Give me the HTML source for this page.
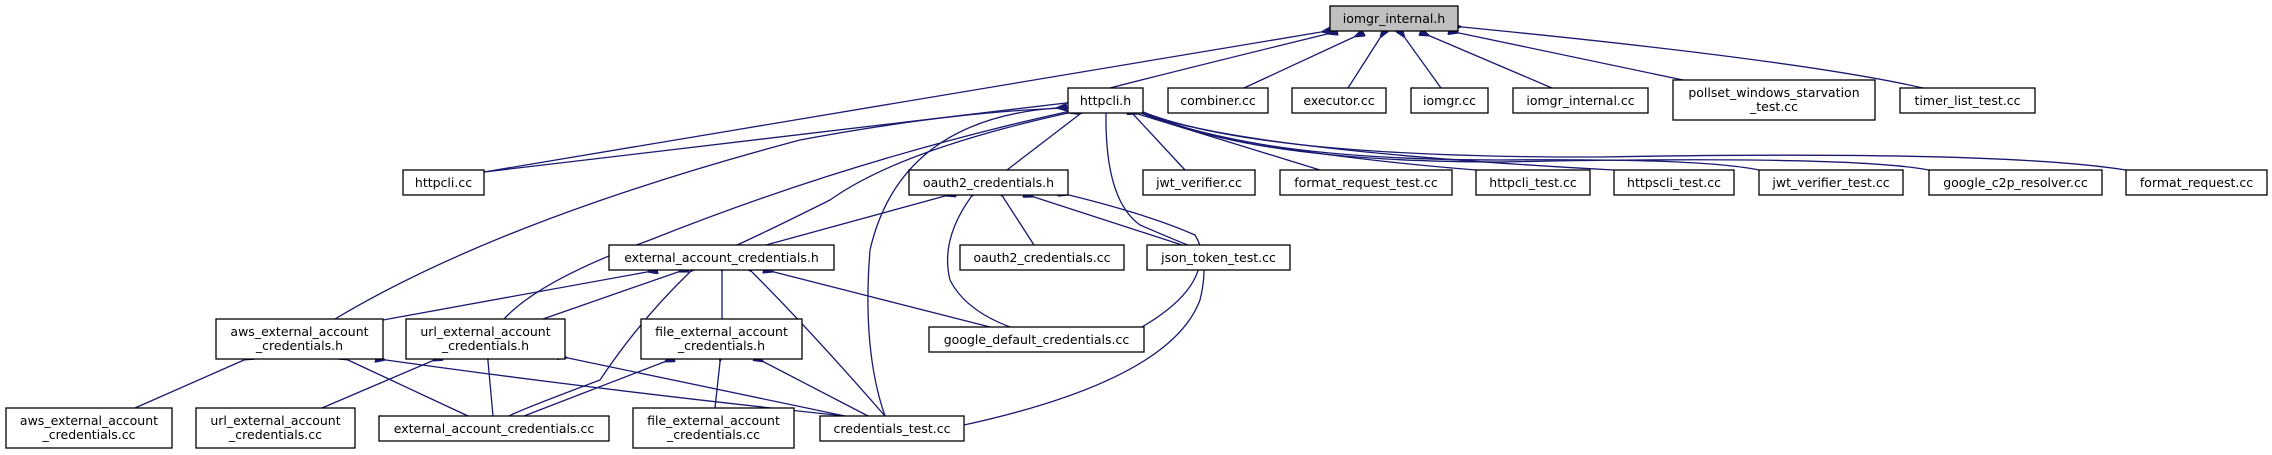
<!DOCTYPE html>
<html><head><meta charset="utf-8"><style>
html,body{margin:0;padding:0;background:#fff;}
svg{display:block;}
text{font-family:"DejaVu Sans","Liberation Sans",sans-serif;font-size:12.5px;fill:#000;}
.n rect{fill:#fff;stroke:#000;stroke-width:1.3;}
.e path{fill:none;stroke:#191970;stroke-width:1.3;}
</style></head><body>
<svg width="2272" height="455" viewBox="0 0 2272 455" xmlns="http://www.w3.org/2000/svg">
<defs>
<marker id="a" markerWidth="11" markerHeight="8" refX="0" refY="4" orient="auto-start-reverse" markerUnits="userSpaceOnUse">
<path d="M11,0 L0,4 L11,8 Z" fill="#191970" stroke="#191970"/>
</marker>
</defs>
<g class="e">
<!-- iomgr_internal.h -->
<path marker-start="url(#a)" d="M1321,32 L484,172"/>
<path marker-start="url(#a)" d="M1327,34 Q1180,70 1110,88"/>
<path marker-start="url(#a)" d="M1354,37 L1244,88"/>
<path marker-start="url(#a)" d="M1380,38 L1348,88"/>
<path marker-start="url(#a)" d="M1405,38 L1441,88"/>
<path marker-start="url(#a)" d="M1430,36 L1552,88"/>
<path marker-start="url(#a)" d="M1459,33 L1683,80"/>
<path marker-start="url(#a)" d="M1462,27 Q1800,60 1923,88"/>
<!-- httpcli.h -->
<path marker-start="url(#a)" d="M1066,103 L484,172"/>
<path marker-start="url(#a)" d="M1066,108 Q950,112 800,140 Q500,220 335,319"/>
<path marker-start="url(#a)" d="M1066,112 Q850,160 650,240 Q540,280 504,319"/>
<path marker-start="url(#a)" d="M1068,113 Q900,150 830,200 Q770,230 737,245"/>
<path marker-start="url(#a)" d="M1080,114 L1007,170"/>
<path marker-start="url(#a)" d="M1056,108 Q900,120 870,250 Q862,350 885,416"/>
<path marker-start="url(#a)" d="M1106,114 Q1105,200 1140,225 Q1175,240 1200,250 Q1205,290 1142,327"/>
<path marker-start="url(#a)" d="M1133,114 L1185,170"/>
<path marker-start="url(#a)" d="M1138,114 L1320,170"/>
<path marker-start="url(#a)" d="M1141,113 Q1230,150 1476,170"/>
<path marker-start="url(#a)" d="M1143,113 Q1240,150 1614,170"/>
<path marker-start="url(#a)" d="M1143,112 Q1250,160 1500,160 Q1700,158 1759,170"/>
<path marker-start="url(#a)" d="M1143,112 Q1250,162 1500,162 Q1850,155 1929,170"/>
<path marker-start="url(#a)" d="M1143,112 Q1260,158 1600,157 Q2000,150 2126,170"/>
<!-- oauth2_credentials.h -->
<path marker-start="url(#a)" d="M945,196 L766,245"/>
<path marker-start="url(#a)" d="M1003,197 L1034,245"/>
<path marker-start="url(#a)" d="M1034,197 L1182,245"/>
<path marker-start="url(#a)" d="M971,197 Q940,240 950,280 Q965,310 1010,327"/>
<path marker-start="url(#a)" d="M1069,195 Q1150,215 1195,235 Q1210,260 1200,300 Q1170,380 964,425"/>
<!-- external_account_credentials.h -->
<path marker-start="url(#a)" d="M647,272 L383,320"/>
<path marker-start="url(#a)" d="M678,272 L543,319"/>
<path marker-start="url(#a)" d="M690,272 Q640,320 600,380 Q520,410 509,416"/>
<path marker-start="url(#a)" d="M722,272 L722,319"/>
<path marker-start="url(#a)" d="M752,272 Q810,330 885,416"/>
<path marker-start="url(#a)" d="M774,272 L990,327"/>
<!-- aws_h -->
<path marker-start="url(#a)" d="M244,360 L135,408"/>
<path marker-start="url(#a)" d="M348,360 L468,416"/>
<path marker-start="url(#a)" d="M386,360 Q600,390 845,416"/>
<!-- url_h -->
<path marker-start="url(#a)" d="M432,361 L322,408"/>
<path marker-start="url(#a)" d="M488,361 L493,416"/>
<path marker-start="url(#a)" d="M568,358 L845,416"/>
<!-- file_h -->
<path marker-start="url(#a)" d="M664,362 L524,416"/>
<path marker-start="url(#a)" d="M720,362 L715,408"/>
<path marker-start="url(#a)" d="M764,362 L868,416"/>
</g>
<g class="n">
<rect x="1330" y="6" width="128" height="25" style="fill:#bfbfbf"/><text x="1394" y="23" text-anchor="middle">iomgr_internal.h</text>
<rect x="1068" y="88" width="75" height="25"/><text x="1105.5" y="105" text-anchor="middle">httpcli.h</text>
<rect x="1168" y="88" width="100" height="25"/><text x="1218" y="105" text-anchor="middle">combiner.cc</text>
<rect x="1292" y="88" width="94" height="25"/><text x="1339" y="105" text-anchor="middle">executor.cc</text>
<rect x="1411" y="88" width="77" height="25"/><text x="1449.5" y="105" text-anchor="middle">iomgr.cc</text>
<rect x="1513" y="88" width="135" height="25"/><text x="1580.5" y="105" text-anchor="middle">iomgr_internal.cc</text>
<rect x="1673" y="80" width="202" height="40"/><text x="1774" y="97" text-anchor="middle">pollset_windows_starvation</text><text x="1774" y="111" text-anchor="middle">_test.cc</text>
<rect x="1900" y="88" width="135" height="25"/><text x="1967.5" y="105" text-anchor="middle">timer_list_test.cc</text>

<rect x="403" y="170" width="81" height="25"/><text x="443.5" y="187" text-anchor="middle">httpcli.cc</text>
<rect x="909" y="170" width="159" height="25"/><text x="988.5" y="187" text-anchor="middle">oauth2_credentials.h</text>
<rect x="1143" y="170" width="112" height="25"/><text x="1199" y="187" text-anchor="middle">jwt_verifier.cc</text>
<rect x="1280" y="170" width="172" height="25"/><text x="1366" y="187" text-anchor="middle">format_request_test.cc</text>
<rect x="1476" y="170" width="114" height="25"/><text x="1533" y="187" text-anchor="middle">httpcli_test.cc</text>
<rect x="1614" y="170" width="120" height="25"/><text x="1674" y="187" text-anchor="middle">httpscli_test.cc</text>
<rect x="1759" y="170" width="144" height="25"/><text x="1831" y="187" text-anchor="middle">jwt_verifier_test.cc</text>
<rect x="1929" y="170" width="173" height="25"/><text x="2015.5" y="187" text-anchor="middle">google_c2p_resolver.cc</text>
<rect x="2126" y="170" width="141" height="25"/><text x="2196.5" y="187" text-anchor="middle">format_request.cc</text>

<rect x="609" y="245" width="225" height="25"/><text x="721.5" y="262" text-anchor="middle">external_account_credentials.h</text>
<rect x="960" y="245" width="164" height="25"/><text x="1042" y="262" text-anchor="middle">oauth2_credentials.cc</text>
<rect x="1147" y="245" width="143" height="25"/><text x="1218.5" y="262" text-anchor="middle">json_token_test.cc</text>

<rect x="216" y="319" width="167" height="40"/><text x="299.5" y="336" text-anchor="middle">aws_external_account</text><text x="299.5" y="350" text-anchor="middle">_credentials.h</text>
<rect x="406" y="319" width="159" height="40"/><text x="485.5" y="336" text-anchor="middle">url_external_account</text><text x="485.5" y="350" text-anchor="middle">_credentials.h</text>
<rect x="641" y="319" width="161" height="40"/><text x="721.5" y="336" text-anchor="middle">file_external_account</text><text x="721.5" y="350" text-anchor="middle">_credentials.h</text>
<rect x="929" y="327" width="215" height="25"/><text x="1036.5" y="344" text-anchor="middle">google_default_credentials.cc</text>

<rect x="6" y="408" width="166" height="40"/><text x="89" y="425" text-anchor="middle">aws_external_account</text><text x="89" y="439" text-anchor="middle">_credentials.cc</text>
<rect x="196" y="408" width="159" height="40"/><text x="275.5" y="425" text-anchor="middle">url_external_account</text><text x="275.5" y="439" text-anchor="middle">_credentials.cc</text>
<rect x="379" y="416" width="230" height="25"/><text x="494" y="433" text-anchor="middle">external_account_credentials.cc</text>
<rect x="633" y="408" width="161" height="40"/><text x="713.5" y="425" text-anchor="middle">file_external_account</text><text x="713.5" y="439" text-anchor="middle">_credentials.cc</text>
<rect x="820" y="416" width="144" height="25"/><text x="892" y="433" text-anchor="middle">credentials_test.cc</text>
</g>
</svg>
</body></html>
